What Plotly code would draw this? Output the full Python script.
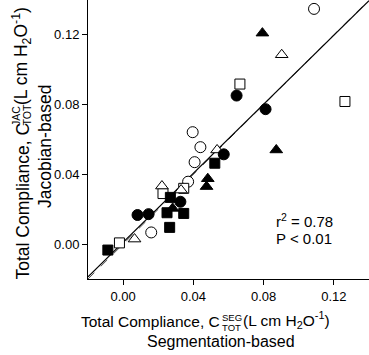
import plotly.graph_objects as go

# ---- data ----
fc_x = [0.0646, 0.0811, 0.0573, 0.0326, 0.0082, 0.0145]
fc_y = [0.0852, 0.0774, 0.0515, 0.0243, 0.0167, 0.0172]
oc_x = [0.1087, 0.0396, 0.0440, 0.0407, 0.0370, 0.0160]
oc_y = [0.1349, 0.0642, 0.0556, 0.0470, 0.0358, 0.0067]
fs_x = [0.0522, 0.0269, 0.0250, 0.0345, 0.0265, -0.0087]
fs_y = [0.0464, 0.0268, 0.0180, 0.0176, 0.0096, -0.0034]
os_x = [0.0665, 0.1263, 0.0345, 0.0227, -0.0021]
os_y = [0.0918, 0.0818, 0.0320, 0.0290, 0.0007]
ft_x = [0.0793, 0.0872, 0.0482, 0.0475, 0.0282]
ft_y = [0.1210, 0.0540, 0.0375, 0.0330, 0.0205]
ot_x = [0.0903, 0.0535, 0.0330, 0.0221, 0.0065]
ot_y = [0.1086, 0.0540, 0.0310, 0.0333, 0.0029]

fit_slope = 0.99
fit_intercept = 0.001
axis_range = [-0.02, 0.14]
tick_vals = [0.00, 0.04, 0.08, 0.12]
tick_text = ["0.00", "0.04", "0.08", "0.12"]
stats_text = ["r<sup>2</sup> = 0.78", "P < 0.01"]

W, H = 369, 355
ML, MR, MT, MB = 88, 0, 0, 76
PW, PH = W - ML - MR, H - MT - MB

def px(x):
    return (x - ML) / PW

def py(y):
    return (MT + PH - y) / PH

FONT = "Liberation Sans, Arial, sans-serif"

fig = go.Figure()

# identity line and regression line
fig.add_trace(go.Scatter(x=axis_range, y=axis_range, mode="lines",
                         line=dict(color="#555555", width=1, dash="dash"),
                         showlegend=False, hoverinfo="skip"))
fig.add_trace(go.Scatter(x=axis_range,
                         y=[fit_slope * v + fit_intercept for v in axis_range],
                         mode="lines", line=dict(color="black", width=1.2),
                         showlegend=False, hoverinfo="skip"))

def add(xs, ys, symbol, size, filled):
    fig.add_trace(go.Scatter(
        x=xs, y=ys, mode="markers", showlegend=False, cliponaxis=False,
        marker=dict(symbol=symbol, size=size,
                    color="black" if filled else "white",
                    line=dict(color="black", width=1))))

add(oc_x, oc_y, "circle", 11, False)
add(os_x, os_y, "square", 10, False)
add(ot_x, ot_y, "triangle-up", 11, False)
add(fc_x, fc_y, "circle", 11, True)
add(fs_x, fs_y, "square", 10, True)
add(ft_x, ft_y, "triangle-up", 11, True)

axis_common = dict(range=axis_range, tickvals=tick_vals, ticktext=tick_text,
                   showgrid=False, zeroline=False, showline=True,
                   linecolor="black", linewidth=1, ticks="outside",
                   ticklen=5, tickcolor="black", tickwidth=1, automargin=False,
                   tickfont=dict(family=FONT, size=13, color="black"))
fig.update_xaxes(**axis_common)
fig.update_yaxes(**axis_common)

ann = []
xf = dict(family=FONT, size=15.5, color="black")
xf2 = dict(family=FONT, size=16, color="black")
yf = dict(family=FONT, size=17.5, color="black")
sf = dict(family=FONT, size=9.5, color="black")
ysf = dict(family=FONT, size=10.5, color="black")
# x axis title
ann.append(dict(text="Total Compliance, C", x=px(221), y=py(321), xanchor="right",
                yanchor="middle", font=xf))
ann.append(dict(text="SEG", x=px(221), y=py(318), xanchor="left", yanchor="middle", font=sf))
ann.append(dict(text="TOT", x=px(221), y=py(327.5), xanchor="left", yanchor="middle", font=sf))
ann.append(dict(text="(L cm H<sub>2</sub>O<sup>-1</sup>)", x=px(242), y=py(320),
                xanchor="left", yanchor="middle", font=xf))
ann.append(dict(text="Segmentation-based", x=px(221), y=py(341), xanchor="center",
                yanchor="middle", font=xf2))
# y axis title
ann.append(dict(text="Total Compliance, C", x=px(22), y=py(281), xanchor="center",
                yanchor="bottom", textangle=-90, font=yf))
ann.append(dict(text="JAC", x=px(16), y=py(127), xanchor="center", yanchor="bottom",
                textangle=-90, font=ysf))
ann.append(dict(text="TOT", x=px(27), y=py(127), xanchor="center", yanchor="bottom",
                textangle=-90, font=ysf))
ann.append(dict(text="(L cm H<sub>2</sub>O<sup>-1</sup>)", x=px(21), y=py(106),
                xanchor="center", yanchor="bottom", textangle=-90, font=yf))
ann.append(dict(text="Jacobian-based", x=px(45), y=py(146), xanchor="center",
                yanchor="middle", textangle=-90, font=yf))
# stats
ann.append(dict(text=stats_text[0], x=px(275), y=py(220), xanchor="left",
                yanchor="middle", font=dict(family=FONT, size=15, color="black")))
ann.append(dict(text=stats_text[1], x=px(275), y=py(238), xanchor="left",
                yanchor="middle", font=dict(family=FONT, size=15, color="black")))
for a in ann:
    a.update(xref="paper", yref="paper", showarrow=False, borderpad=0)

fig.update_layout(width=W, height=H,
                  margin=dict(l=ML, r=MR, t=MT, b=MB, autoexpand=False),
                  plot_bgcolor="white", paper_bgcolor="white",
                  annotations=ann, showlegend=False)

fig.write_html("out.html", config={"displayModeBar": False},
               post_script="document.body.style.margin='0';document.body.style.overflow='hidden';")
